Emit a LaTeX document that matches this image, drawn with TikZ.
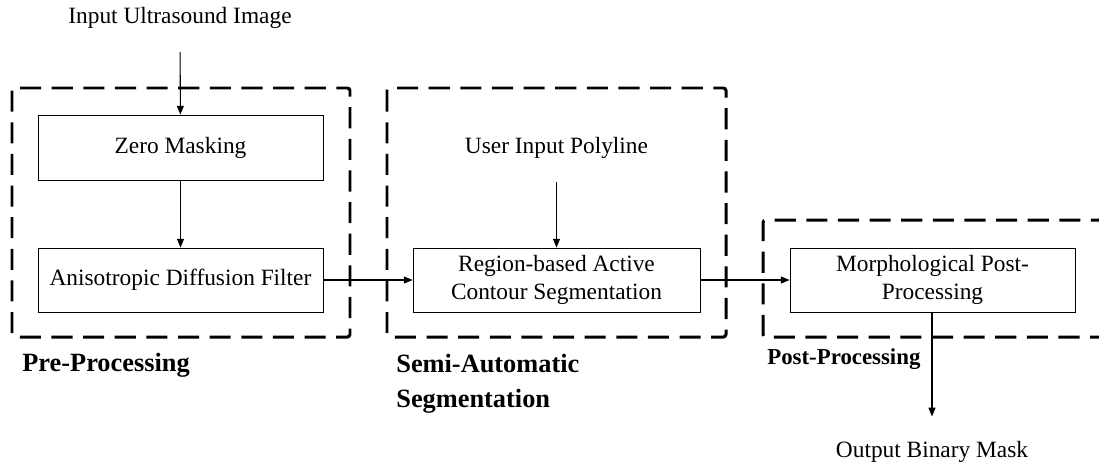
\documentclass[tikz,border=0pt]{standalone}
\usepackage{fontspec}
\setmainfont{Liberation Serif}
\usetikzlibrary{arrows.meta,positioning}

\begin{document}
\begin{tikzpicture}[x=0.02cm,y=-0.02cm,>={Triangle[length=5pt,width=4pt]}]
    \tikzset{stagebox/.style={draw,line width=0.5pt,minimum width=5.7cm,minimum height=1.28cm,
      align=center,inner sep=2pt,font=\fontsize{13.3}{15.5}\selectfont},
      plaintext/.style={inner sep=0pt,font=\fontsize{13.3}{15.5}\selectfont},
      group/.style={line width=1.7pt,dash pattern=on 12pt off 6pt,rounded corners=1.5pt},
      grouplabel/.style={inner sep=0pt,align=left,font=\bfseries\fontsize{15}{19.8}\selectfont},
      link/.style={->,line width=0.6pt}}
    \useasboundingbox (0,0) rectangle (1099,464);
    % dashed groups
    \draw[group] (12,88) rectangle (350,337);
    \draw[group] (387,88) rectangle (726,337);
    \draw[group] (1112,220) -- (763,220) -- (763,337) -- (1112,337);
    % stages
    \node[plaintext] (input) at (180,18) {Input Ultrasound Image};
    \node[stagebox,minimum height=1.3cm] (zero) at (180.5,147.5) {Zero Masking};
    \node[stagebox] (adf) at (180.5,280) {Anisotropic Diffusion Filter};
    \node[plaintext] (poly) at (556.5,148) {User Input Polyline};
    \node[stagebox,minimum width=5.74cm] (rbac) at (556.5,280) {Region-based Active\\Contour Segmentation};
    \node[stagebox] (morph) at (932.5,280) {Morphological Post-\\Processing};
    \node[plaintext] (output) at (932,452) {Output Binary Mask};
    % group labels
    \node[grouplabel,anchor=west] (prelbl) at (22,365) {Pre-Processing};
    \node[grouplabel,anchor=north west] (semilbl) at (396,354) {Semi-Automatic\\Segmentation};
    \node[grouplabel,anchor=west,font=\bfseries\fontsize{13}{16}\selectfont] (postlbl) at (767,359) {Post-Processing};
    % connectors
    \draw[link,shorten <=13pt] (input) -- (zero);
    \draw[link] (zero) -- (adf);
    \draw[link] (adf) -- (rbac);
    \draw[link,shorten <=13pt] (poly) -- (rbac);
    \draw[link] (rbac) -- (morph);
    \draw[link,shorten >=14pt] (morph.south -| output) -- (output);
  \end{tikzpicture}
\end{document}
